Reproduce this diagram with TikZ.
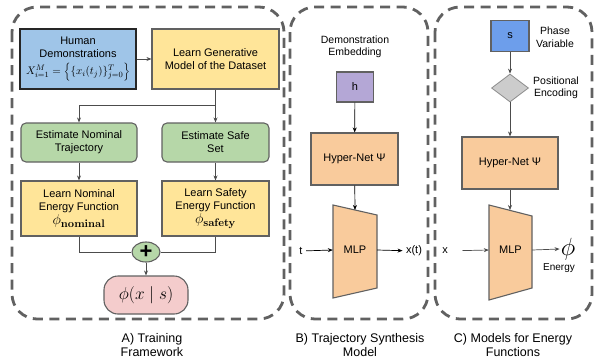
\documentclass[tikz,border=0pt]{standalone}
\usepackage[no-math]{fontspec}
\setmainfont{Liberation Sans}
\usetikzlibrary{shapes.geometric,arrows.meta}

\definecolor{demo fill}{HTML}{9FC5E8}
\definecolor{learn fill}{HTML}{FFE599}
\definecolor{estimate fill}{HTML}{B6D7A8}
\definecolor{result fill}{HTML}{F4CCCC}
\definecolor{embed fill}{HTML}{B4A7D6}
\definecolor{net fill}{HTML}{F9CB9C}
\definecolor{phase fill}{HTML}{6D9EEB}
\colorlet{panel edge}{black!62}
\colorlet{box edge}{black!62}
\colorlet{wire}{black!70}
\tikzset{
  panel/.style={draw=panel edge, line width=2.8pt, dash pattern=on 10pt off 6.5pt, rounded corners=25pt},
  block/.style={draw=box edge, line width=1.1pt, inner sep=1pt, align=center, font=\fontsize{11}{13}\selectfont},
  softblock/.style={block, rounded corners=5pt},
  caption/.style={align=center, font=\fontsize{12.5}{14.5}\selectfont},
  tag/.style={align=center, font=\fontsize{10.5}{12.5}\selectfont}
  }
\tikzstyle{link} = [draw, wire, line width=0.7pt, -{Stealth[length=5pt,width=4pt]}]
\tikzstyle{wireline} = [draw, wire, line width=0.7pt, -]
\tikzstyle{mlp} = [draw=box edge, line width=1.1pt, fill=net fill]

\begin{document}
\begin{tikzpicture}[x=1pt, y=-1pt]
  \useasboundingbox (0,0) rectangle (594,362);
  \foreach \xa/\xb in {12/284, 290/428, 435/592} {
      \draw[panel] (\xa,7) rectangle (\xb,319);
  }

  % A) training framework
  \node[block, fill=demo fill, draw=black!85, minimum width=116pt, minimum height=60pt] (human) at (78,59)
      {Human\\Demonstrations\\[4pt]$X_{i=1}^{M}=\Big\{\{x_i(t_j)\}_{j=0}^{T}\Big\}$};
  \node[block, fill=learn fill, minimum width=127pt, minimum height=60pt] (generative) at (215.5,59)
      {Learn Generative\\Model of the Dataset};
  \node[softblock, fill=estimate fill, minimum width=116pt, minimum height=39pt] (nominal) at (79,142.5)
      {Estimate Nominal\\Trajectory};
  \node[softblock, fill=estimate fill, minimum width=107pt, minimum height=39pt] (safe) at (215.5,142.5)
      {Estimate Safe\\Set};
  \node[block, fill=learn fill, minimum width=116pt, minimum height=55pt] (nomenergy) at (79,208.5)
      {Learn Nominal\\Energy Function\\[1pt]{\fontsize{15}{15}\selectfont$\phi_{\mathbf{nominal}}$}};
  \node[block, fill=learn fill, minimum width=107pt, minimum height=55pt] (safeenergy) at (215.5,208.5)
      {Learn Safety\\Energy Function\\[1pt]{\fontsize{15}{15}\selectfont$\phi_{\mathbf{safety}}$}};
  \node[ellipse, draw=box edge, line width=1.1pt, fill=estimate fill, minimum width=28pt, minimum height=20pt, inner sep=0pt] (plus) at (146,252)
      {\fontsize{22}{22}\selectfont\bfseries +};
  \node[block, fill=result fill, rounded corners=14pt, minimum width=84pt, minimum height=38pt] (energy) at (146,295)
      {\fontsize{18}{18}\selectfont$\phi(x\mid s)$};
  \coordinate (split) at (215.5,105);

  \path[link] (human) -- (generative);
  \path[wireline] (generative.south) -- (split);
  \path[link] (split) -| (nominal.north);
  \path[link] (split) -- (safe.north);
  \path[link] (nominal) -- (nomenergy);
  \path[link] (safe) -- (safeenergy);
  \path[wireline] (nomenergy.south) |- (plus.west);
  \path[wireline] (safeenergy.south) |- (plus.east);
  \path[link] (plus) -- (energy);

  % B) trajectory synthesis
  \node[tag] (embedtag) at (355,47) {Demonstration\\Embedding};
  \node[block, fill=embed fill, minimum width=37pt, minimum height=30pt] (h) at (355,87) {h};
  \node[block, fill=net fill, minimum width=87pt, minimum height=52pt] (hyperB) at (354.5,159) {Hyper-Net Ψ};
  \draw[mlp] (333,205) -- (377,215) -- (377,288) -- (333,298) -- cycle;
  \node[inner sep=0pt, minimum width=44pt, minimum height=20pt, font=\fontsize{11}{13}\selectfont] (mlpB) at (355,250) {MLP};
  \coordinate (mlpBtop) at (355,210);
  \node[font=\fontsize{11}{13}\selectfont] (t) at (301,251) {t};
  \node[font=\fontsize{11}{13}\selectfont] (xt) at (414,251) {x(t)};

  \path[link, black] (h) -- (hyperB);
  \path[link, black] (hyperB) -- (mlpBtop);
  \path[link, black] (t) -- (mlpB.west);
  \path[link, black] (mlpB.east) -- (xt);

  % C) energy models
  \node[block, fill=phase fill, minimum width=38pt, minimum height=31pt] (s) at (510,36) {s};
  \node[tag] (phasetag) at (555,37) {Phase\\Variable};
  \node[diamond, draw=black!45, line width=0.8pt, fill=black!20, minimum width=37pt, minimum height=28pt, inner sep=0pt] (posenc) at (510,88) {};
  \node[tag] (postag) at (556,88) {Positional\\Encoding};
  \node[block, fill=net fill, minimum width=96pt, minimum height=52pt] (hyperC) at (510,163) {Hyper-Net Ψ};
  \draw[mlp] (489,205) -- (532,216) -- (532,288) -- (489,300) -- cycle;
  \node[inner sep=0pt, minimum width=43pt, minimum height=20pt, font=\fontsize{11}{13}\selectfont] (mlpC) at (510.5,250) {MLP};
  \coordinate (mlpCtop) at (510,210);
  \node[font=\fontsize{11}{13}\selectfont] (x) at (445,251) {x};
  \node[inner sep=1pt] (phi) at (568,249) {\fontsize{24}{24}\selectfont$\phi$};
  \node[tag, font=\fontsize{10}{12}\selectfont] (energytag) at (559,268) {Energy};

  \path[link] (s) -- (posenc);
  \path[link] (posenc) -- (hyperC);
  \path[link] (hyperC) -- (mlpCtop);
  \path[link, shorten <=11pt] (x) -- (mlpC.west);
  \path[link] (mlpC.east) -- (phi.west);

  \foreach \pos/\name/\txt in {{(152,345)/capA/A) Training\\Framework}, {(360,345)/capB/B) Trajectory Synthesis\\Model}, {(513,345)/capC/C) Models for Energy\\Functions}} {
      \node[caption] (\name) at \pos {\txt};
  }
\end{tikzpicture}
\end{document}
